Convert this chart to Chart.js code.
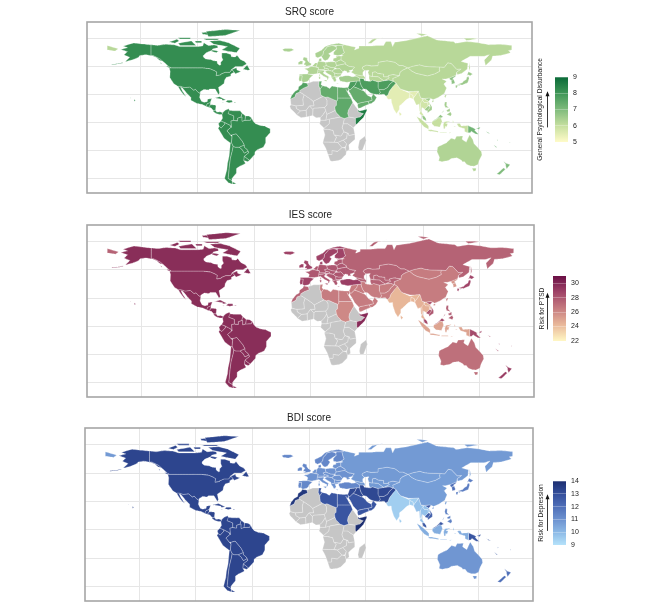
<!DOCTYPE html>
<html>
<head>
<meta charset="utf-8">
<title>SRQ, IES and BDI score maps</title>
<script src="https://cdn.jsdelivr.net/npm/chart.js@4/dist/chart.umd.min.js"></script>
<style>
  html, body { margin: 0; padding: 0; background: #fff; }
  #page { position: relative; width: 666px; height: 604px; overflow: hidden; }
  canvas { position: absolute; filter: blur(0.35px); }
</style>
</head>
<body>
<div id="page"></div>
<script>
// score of each region, null = no data (grey)
const groupNames = ['Americas', 'NW Europe', 'Europe', 'Turkey', 'Russia', 'East Asia', 'Japan', 'Korea',
  'North Africa', 'Middle East', 'Sudan', 'Somalia', 'Morocco', 'South Asia', 'Mainland SEA', 'Vietnam',
  'Malaysia', 'Indonesia', 'Philippines', 'PNG', 'Australia', 'New Zealand', 'Africa']
const srqValues = [8.2, 6.4, 6.3, 6.5, 6.2, 6.2, 6.6, 6.8, 7.4, 7.8, 7.5, 8.6, 7.7, 5.5, 5.8, 6.5, 6.7, 6.0, 6.5, 7.2, 6.3, 7.0, null]
const iesValues = [29.7, 28.8, 28.0, 29.0, 27.5, 26.5, 28.7, 25.5, 26.5, 26.5, 26.0, 29.8, 27.5, 24.3, 24.5, 28.0, 28.5, 25.0, 27.8, 28.5, 27.0, 29.0, null]
const bdiValues = [13.3, 11.3, 11.0, 11.3, 10.8, 10.7, 11.6, 12.0, 12.8, 13.2, 12.8, 14.0, 13.7, 9.5, 9.8, 12.5, 12.7, 10.3, 11.5, 12.8, 10.9, 12.0, null]

const srqTicks = [5, 6, 7, 8, 9]
const iesTicks = [22, 24, 26, 28, 30]
const bdiTicks = [9, 10, 11, 12, 13, 14]
const lonTicks = [-150, -100, -50, 0, 50, 100, 150]
const latTicks = [-50, -25, 0, 25, 50, 75]

const srqColors = ['#fffbc8', '#c6dfa0', '#7fbb7c', '#3f9657', '#0a6a38']
const iesColors = ['#fff7c4', '#e9b89a', '#c67c80', '#a04468', '#6a0f45']
const bdiColors = ['#b5e2fa', '#8cb9e6', '#6d92d0', '#4f6fb8', '#344f9b', '#1c2e70']

// country outlines as "lon,lat" lists
const outlines = {
  'Americas': [
    '-141,69.6 -135,69 -128,70 -120,69.5 -115,68 -108,68 -100,68 -95,68.5 -94,71.5 -90,69 -85,69.5 -82,69 -81.5,67 -86,66 -87,64.5 -92,62.5 -94.5,60 -94.5,58.7 -92.5,57 -88,56.5 -85,55.3 -82.3,55 -82,52.9 -80,51.3 -79,51.5 -79,54 -77,56 -78,58.5 -78,62.3 -74,62.2 -70,61 -69.5,59 -66,58.7 -64.5,60.3 -61.5,56.5 -58,54.8 -56,52.5 -60,50.2 -66,50.2 -70,47 -65,49 -64.5,47 -61,45.8 -66,43.7 -67,45 -69,47.4 -71,45 -75,45 -79,43.3 -79,42.8 -83,42 -82.5,45.3 -84.5,46.5 -88.5,48.2 -95,49 -123,49 -125,50 -130,54.5 -133,57 -137,59 -139,60 -141,60',
    '-123,49 -95,49 -88.5,48.2 -84.5,46.5 -82.5,45.3 -83,42 -79,42.8 -79,43.3 -75,45 -71,45 -69,47.4 -67,45 -70,43.5 -70,41.7 -74,40.5 -75.5,38 -76,35 -81,31.5 -80,26.5 -81,25 -82.7,28 -84,30 -89,30 -90,29 -94,29.5 -97.3,27.5 -97.2,26 -99.5,27.5 -101.5,29.8 -103,29 -106.5,31.8 -111,31.3 -114.8,32.5 -117.1,32.5 -120.5,34.5 -122.5,37.5 -124.3,40.3 -124,46 -124.7,48.4',
    '-141,69.6 -141,60 -139,60 -137,59 -133,57 -130,55 -133,55.5 -136,58 -140,59.7 -146,60.7 -151,60 -152,58.5 -158,56 -164,54.5 -160,58.5 -165,60.5 -162,63.5 -168,65.5 -162,67 -166,68.5 -156.5,71.3 -148,70.3',
    '-80,73.5 -72,71.5 -67,69 -62,66.5 -65,62.5 -71,63.5 -78,65 -73,68 -85,70 -89,73',
    '-117,71 -105,73 -101,69 -115,69', '-125,72 -118,74.5 -116,73 -120,71',
    '-90,77 -75,78 -62,82.5 -75,83.2 -92,81.5', '-95,75 -80,75 -82,74 -92,74', '-95,79 -88,78 -90,81 -96,80.5',
    '-117,76 -106,76 -106,74.8 -115,74.8', '-102,73 -96,73 -96,71.5 -101,71.5', '-87,65 -81,64 -83,62.5 -87,63.5',
    '-59,47.7 -55.5,51.5 -53,47 -55,46.8', '-125,50.5 -123.5,48.5 -128,50.5', '-133,54 -131.5,53 -132,52.5',
    '-117.1,32.5 -114.8,32.5 -111,31.3 -106.5,31.8 -103,29 -101.5,29.8 -99.5,27.5 -97.2,26 -97.8,22.5 -96,19 -94,18.2 -91,18.7 -90.5,21 -87,21.5 -88,18.5 -89,17.8 -91,17 -92,14.6 -95,16 -100,17 -105.5,20 -105.5,22.5 -109,26 -113,31 -114.8,31.8 -113,28 -110,23.5 -112,25 -115,29',
    '-92.2,14.6 -91,17 -89,17.8 -88.2,18.4 -88.3,16 -89.2,14.4 -90,13.8',
    '-89.2,14.4 -88.3,16 -84,15.8 -83.2,15 -83.6,11 -85.7,11 -87.6,13 -88,13.2 -90,13.8',
    '-83.6,11 -82.5,9.3 -79.5,9.6 -77.4,8.7 -77.9,7.2 -80.4,7.3 -83,8.2 -85.7,10 -85.7,11',
    '-85,22 -80,23.2 -74.2,20.2 -77.7,19.9 -78,21', '-74.5,18.5 -73,19.9 -69,19.8 -68.4,18.5 -71.5,17.7', '-78.3,18.4 -76.3,18.1 -77,17.8',
    '-67.2,18.4 -65.7,18.4 -65.9,18 -67.2,18',
    '-77.4,8.7 -75,11 -72,12.3 -71.3,11 -72.5,8 -70,7 -67.5,6 -67.5,2 -70,1.5 -69.5,-4.2 -70.5,-2.5 -75.3,0 -78.8,1.4 -77.3,4 -77.9,7.2',
    '-72,12.3 -71.3,11 -68,10.6 -64,10.5 -61.7,10.6 -60,8.4 -61,5 -64,4 -64,1.5 -67.5,2 -67.5,6 -70,7 -72.5,8',
    '-60,8.4 -57,6 -57.5,2 -60,1.2 -60,5 -61,5', '-57,6 -54,5.8 -51.7,4.3 -52.5,2.2 -57.5,2',
    '-78.8,1.4 -75.3,0 -75.5,-1.5 -78.5,-4.7 -80.3,-3.4 -81,-1',
    '-80.3,-3.4 -78.5,-4.7 -75.5,-1.5 -75.3,0 -70.5,-2.5 -69.9,-4.2 -73.5,-7.3 -70.5,-11 -69,-12.5 -69.5,-17.5 -70.4,-18.3 -76,-14 -81.3,-5',
    '-51.7,4.3 -50,1 -48,-1 -44,-2.5 -40,-3 -35,-5.5 -35,-9 -39,-13.5 -39,-18 -41,-22 -46,-24 -48.5,-26 -48.7,-28.5 -53.4,-33.7 -58,-30.2 -54,-27 -54.6,-25.5 -55.5,-24 -58,-22 -58,-20 -60,-16.3 -65.3,-10 -69,-11 -70.5,-11 -73.5,-7.3 -69.9,-4.2 -69.5,-4.2 -70,1.5 -67.5,2 -64,1.5 -64,4 -61,5 -60,5 -60,1.2 -57.5,2 -52.5,2.2',
    '-69,-11 -65.3,-10 -60,-16.3 -58,-20 -62.6,-22 -66.3,-22 -68,-21 -69.5,-17.5 -69,-12.5',
    '-58,-20 -58,-22 -55.5,-24 -54.6,-25.5 -58,-27.3 -60,-24 -62.6,-22',
    '-58,-30.2 -53.4,-33.7 -55,-35 -58.4,-34',
    '-70.4,-18.3 -69.5,-17.5 -68,-21 -68.5,-24 -70.5,-32 -71.5,-40 -72,-46 -72.5,-50 -69,-52 -68.5,-55 -72,-54 -75.5,-50 -73.5,-42 -73,-37 -71.5,-30',
    '-66.3,-22 -62.6,-22 -60,-24 -58,-27.3 -54.6,-25.5 -54,-27 -58,-30.2 -58.4,-34 -57,-36.5 -62,-39 -65,-41 -65,-45 -69,-50 -69,-52 -72.5,-50 -72,-46 -71.5,-40 -70.5,-32 -68.5,-24 -68,-21',
    '-68.5,-53 -68.5,-55 -65,-55',
    '-156,20.8 -155,19.8 -155.8,19 -156,19.8', '-159.8,22.2 -159.3,22.1 -159.5,21.8', '-176,52 -170,52.8 -166,53.8 -166,53.4 -170,52.4 -176,51.7'
  ],
  'NW Europe': [
    '-24,65.5 -22,66.4 -16,66.4 -13.7,65 -18,63.4 -22.5,63.9',
    '5,62 5.5,59 7.5,58 10.5,59.3 12,61 12.5,64 14,65.5 16,68 20,69 25,69 29,69 31,69.7 26,71 20,70 14,68 11,65',
    '10.5,59.3 12.5,56.3 14,55.4 16.5,56.5 18.7,60 17,61.5 21,64 24,65.8 23.5,68 20,69 16,68 14,65.5 12.5,64 12,61',
    '24,65.8 21.5,63 21.5,60.7 25,60 28,60.5 31,62.5 30,65 29,69 25,69 23.5,68',
    '8.2,55 8.5,57 10.5,57.5 10.8,55 9.5,54.8',
    '-5.5,50 1.3,51.2 1.7,52.7 -0.5,54 -2,56 -2,57.7 -5,58.6 -6,56.5 -3.5,54.5 -4.7,52.8 -5,51.7 -3,51.4',
    '-10,52 -6.2,52.2 -6,55 -8,55.2 -10,54',
    '-9,43.2 -1.8,43.4 3.2,42.4 0,39.5 -0.5,38 -2,36.8 -5.5,36 -7,37.2 -6.5,41 -6.5,42 -9,42',
    '-9,42 -6.5,42 -6.5,41 -7,37.2 -9,37 -9.5,38.8'
  ],
  'Europe': [
    '-4.7,48.5 -1.5,48.7 1.5,50.2 4,50 8.2,49 7.5,47.5 7,44 3.2,43.2 -1.8,43.4 -1,46 -2.5,47.3',
    '2.5,51 4,52 5,53.4 7,53.4 6,50 4,50',
    '7,53.4 8.2,55 9.5,54.8 14.2,54 15,51 12.3,50.3 13.5,48.7 13,47.5 7.5,47.5 8.2,49 6,50',
    '7.5,47.5 13,47.5 13.5,48.7 17,48 16,46.8 12.5,46.7 10,46.3 7,46',
    '7,44 7,46 10,46.3 12.5,46.7 13.7,45.6 12.3,45 12.5,44 16,41.8 18.5,40 17,40.5 16.7,39 15.7,38 15.7,40 12.5,41.5 10.5,43 8.8,44.4',
    '12.5,38 15.5,38.2 15,36.7', '8.2,41 9.7,41 9.5,39 8.5,39', '8.6,43 9.5,43 9.3,41.5 8.7,41.7',
    '14.2,54 19,54.5 23,54.3 24,51 22.5,49.1 19,49.4 15,51',
    '12.3,50.3 15,51 19,49.4 22.5,49.1 22,47.8 20,46.2 16,46.8 17,48 13.5,48.7',
    '22,47.8 24.5,48 27,48.3 29.7,45.3 28.6,43.8 25,43.7 22.5,44.3 20.3,46',
    '22.5,44.3 25,43.7 28.6,43.8 27.7,42 26.3,41.7 23,41.3 22.5,42.5',
    '13.7,45.6 16,46.8 20,46.2 22.5,44.3 22.5,42.5 23,41.3 20.8,40.9 19.4,40.5 19.4,42 15,44.5',
    '19.4,40.5 20.8,40.9 23,41.3 26.3,41.7 26,40.8 23,40.3 24,38 23,36.5 21.7,36.8 21,38.5 20,39.7',
    '23.5,35.5 26,35.3 25,34.9',
    '24,51 31.5,52.5 35,50.3 40,49.5 38,47.2 35,46.3 36.5,45.2 33.5,44.5 33,46 30.7,46.4 29.7,45.3 27,48.3 24.5,48 22.5,49.1',
    '23,54.3 24,51 31.5,52.5 32,53.5 28,56 26,55.5 23.5,53.9',
    '21,56 21.5,57.5 24,58 23.5,59.3 28,59.5 28,56 26,55.5 23.5,53.9 21,55.3'
  ],
  'Turkey': ['26.2,39.5 26.5,41 29,41.2 32,42 35,42 38,41 41.5,41.5 44.6,39.7 44.8,37.2 42.3,37.2 36.5,36.5 33,36 30.5,36.5 27.5,37'],
  'Russia': [
    '31,69.7 41,67.5 40,65 44,66.5 44,68.5 54,68.5 60,69 66,69 68,72.5 72.5,72.5 74,68 76,72 87,73.5 100,76.5 105,77.6 113,74 128,72.5 130,71 140,72.5 150,71.5 160,69.7 170,70 180,69 180,65 177,64.5 179,62.5 170,60 163,59.5 162,56 156.7,51 155.5,56 160,60.8 155,59.3 143,59.3 135,54.7 141,53 140.5,48 135.5,44 131.5,43 131,45 135,48 131,47.7 126,53 123,53.5 120,49.5 116,49.8 107,50 102,50.5 98,51.7 92,50.5 87.5,49 83,51 80,51 76,54 69,55.3 61,54 61,51 55,50.7 51,51.5 47.5,50 46.7,48.5 49,46.5 47.5,45 47.5,43 48,42 46,41.9 40,43.3 37,45 39,47 38,47.2 40,49.5 35,50.3 31.5,52.5 32,53.5 28,56 28,59.5 30,60 28,60.5 31,62.5 30,65 29,69',
    '-180,69 -170,66 -173,64 -180,65', '142,54 143,49 142,46 142,50', '52,71 56,74.5 68,77 60,75 55,71',
    '137,75.5 145,75.5 150,75 140,73.5', '95,80 105,79 100,77.5',
    '46.7,48.5 47.5,50 51,51.5 55,50.7 61,51 61,54 69,55.3 76,54 80,51 83,51 87.5,49 83,47 80.5,45 80,42 74,43 70,42 70,41 66,41 66,43.5 61,44 58.5,45.5 56,45 56,41.3 53,42 52,45 53,46.8 49,46.5',
    '53,42 56,41.3 61,41 66,37.5 65,37.3 61,36.5 56,38 54,37 53,39.5',
    '56,41.3 56,45 58.5,45.5 61,44 66,43.5 66,41 70,41 71,40 67,38 66,37.5 61,41',
    '70,41 70,42 74,43 80,42 74,39.5 74.5,37 71,38 67,38 71,40',
    '41.5,41.5 40,43.3 46,41.9 48,42 49.5,40.5 48.9,38.4 48,39.5 44.6,39.7'
  ],
  'East Asia': [
    '74,39.5 80,42 80.5,45 83,47 87.5,49 91,46 95,44 105,41.7 111.5,43.5 116,46 115.5,47.8 116,49.8 120,49.5 123,53.5 126,53 131,47.7 135,48 131,45 130.5,42.5 125,40 121,39 118,39 122,37 119.5,34.5 122,31 120,26 115,22.7 110,20.5 108,21.6 106.5,22 102,21.5 99,22 98,25 97,28.2 92,27.8 88,27.8 81,30 79,32.5 77,35.5 74.5,37',
    '87.5,49 92,50.5 98,51.7 102,50.5 107,50 116,49.8 115.5,47.8 116,46 111.5,43.5 105,41.7 95,44 91,46',
    '121,25 122,25 120.8,22 120,23.5', '109,19.5 110.5,20 110.5,18.7 109,18.3'
  ],
  'Japan': [
    '130.9,34 136,35.6 137,37 139.5,38.5 140,40.5 141.5,41.4 142,39.5 140.8,35.7 139,35 136,33.6 132,34',
    '140,42 141.5,45.5 145.3,43.5 143,42 141,42.7', '130,33.5 132,33.5 131,31 130,31.5', '132.5,33.5 134.5,34 134,33.4 133,32.8'
  ],
  'Korea': [
    '124.5,40 130.5,42.5 129.7,41 127.5,39.5 128.3,38.6 126,37.8 125,38.5',
    '126,37.8 128.3,38.6 129.4,36 129,35 126.5,34.4 126.5,36'
  ],
  'North Africa': [
    '8.6,36.9 11,37 10.2,34 11.5,33 9.5,30 8.2,33',
    '11.5,33 15,32.3 18,30.5 20,32.8 25,31.7 25,20 24,19.5 16,23 14,22.6 12,23.5 10,25 9.5,30',
    '25,31.7 32,31.2 34.2,31.3 34.9,29.5 33.5,27.5 32.5,29.8 35.5,24 37,22 25,22',
    '34.9,29.5 36,29.2 39,32 42,31 46.5,29 48,28.4 50,26.5 51.5,24.5 55,22.7 55.7,20 52,19 49,18.5 44,17.4 43,16.7 39,21 37,25 35,28',
    '43,16.7 44,17.4 49,18.5 52,19 53,16.7 45,13 43.5,12.7 42.8,15',
    '55.7,20 55,22.7 56.3,24.7 56.4,26 59.8,22.5 57.8,19 55,17 53,16.7 52,19'
  ],
  'Middle East': [
    '39,32 42,31 46.5,29 48,30 46,33 45,35.8 44.8,37.2 42.3,37.2 41.2,35 41,34.3',
    '34.2,31.3 35,33 35.8,35.5 36.5,36.5 42.3,37.2 41.2,35 41,34.3 39,32 36,29.2 34.9,29.5',
    '44.6,39.7 48,39.5 49,37.5 54,37 56,38 61,36.5 61,31.5 63,27 61.5,25 57,25.5 54,26.7 50.5,29.8 48,30 46,33 45,35.8 44.8,37.2',
    '61,36.5 65,37.3 71,38 74.5,37 71,34 69.5,31.5 66,29.5 61,29.5 61,31.5',
    '61,29.5 66,29.5 69.5,31.5 71,34 74.5,37 77,35.5 74,32 71,28 70,25 68,23.7 66.5,25.3 61.5,25 63,27'
  ],
  'Sudan': ['25,22 37,22 38.5,18 36.5,14.5 34.5,11 34,8 35,5 31,3.7 27.5,5 24,8.7 23,11 22.5,14 24,15.5 24,19.5 25,20'],
  'Somalia': ['43.2,11.4 44.5,10.4 51,12 51,10.5 48,4.5 42,-1.5 41,-1 41,4 45,5 48,8 43.5,9.5'],
  'Morocco': ['-6,35.8 -2,35.1 -1.2,32.5 -5,31 -8.7,28.7 -8.7,27.3 -12,26 -13,23 -17,21 -16,24 -13,27.8 -10,29.5 -9.7,32 -6.8,34'],
  'South Asia': [
    '68,23.7 70,25 71,28 74,32 74.5,34.5 77,35.5 79,32.5 81,30 88,26.8 92,27.8 97,28.2 94,24 92.5,22 92,24.5 89,26 88.7,22 86.8,21 82,16.5 80,15 80,12 77.5,8 75,12 73,18 72.7,21 70,20.7 69,22',
    '89,26 92,24.5 92.5,21 90,22 88.7,22', '80,9.7 82,7.5 80.5,6 79.8,8'
  ],
  'Mainland SEA': [
    '92.5,22 94,24 97,28.2 98,25 99,22 101,21 98.5,17 99,11 98,10 97.5,16.5 95,15.8 94,18 92.5,21',
    '98.5,20 100.5,20 102,18 105,18 105.5,15 102.5,12 101,13 100,13.5 99.5,10 102,6 100,6.5 98,8 99,11 98.5,17',
    '100.5,20 102,21.5 105.8,19 107,16 105.5,15 105,18 102,18'
  ],
  'Vietnam': [
    '102,21.5 106.5,22 108,21.6 105.8,19 109,14 109,11.5 105,8.7 105,10.5 107.5,14 107,16 105.8,19',
    '102.5,12 105.5,15 107.5,14 105.5,10.3 103,11'
  ],
  'Malaysia': [
    '100,6.5 102,6 103.5,4 104,1.5 101,3',
    '109.5,1.5 111,1.7 115,4.5 117,4.2 119,5.2 116.5,7 113,3.5'
  ],
  'Indonesia': [
    '109,0 109.5,1.5 111,1.7 115,4.5 117,4.2 118,1 116,-4 111,-3.2 109,-1',
    '95.3,5.5 98,4 104,-1 106,-3 106,-6 102,-4 98.5,0', '105.5,-6.5 108.5,-6.5 114.5,-7.7 114.5,-8.7 106,-7.6',
    '119.5,-5.5 119,-2 120,0.8 125,1.5 121,-0.8 123,-1 122,-4 121,-3 120.5,-5.6',
    '131,-1 134,-0.8 135,-3 141,-2.6 141,-9.2 138,-8 138,-5.5 133,-4 132,-2.5',
    '124,-10 127,-8.3 124.5,-9.2', '116,-8.5 119,-8.4 122,-8.5 122,-8.9 116,-9',
    '127.5,2 128.5,0 127.5,-0.5', '128,-3 130.5,-3.2 129,-3.5'
  ],
  'Philippines': [
    '120.5,18.5 122.2,18.4 122,15 124,13 120.7,13.8 120,16', '122,7 125.5,9.7 126.5,7.5 125.5,5.7 124,6.5',
    '122,11 125,12.5 125,10 122.5,9.7', '118,9 119.5,11 119,9.5 117.5,8.5'
  ],
  'PNG': [
    '141,-2.6 145,-4.5 147.8,-6 147,-7 150.7,-10.5 148,-10.2 144,-7.7 143,-9 141,-9.2',
    '148.5,-5.5 152,-4 151,-6', '157,-8 160.5,-9.5 159,-9.5', '166.8,-15 167.5,-16 167,-16.3', '164,-20 167,-22 166,-22.2', '178,-17.5 178.6,-17.5 178.4,-18.2'
  ],
  'Australia': [
    '114,-22 116,-20.8 122,-18 123.5,-16.5 126,-14 129.5,-15 130.8,-12.3 136.5,-12 135.8,-15 139.5,-17.5 141.5,-13 142.5,-10.8 145.3,-15 146.5,-19 150,-22.5 153,-26 153.5,-29 151,-34 150,-37.5 146.5,-39 143.5,-38.8 140,-37.5 138,-35 136,-35 135,-33.5 131,-31.5 126,-32.3 123.5,-33.9 118,-35 115,-34.3 115.7,-31 113.5,-26',
    '144.7,-40.8 148.3,-40.8 148,-43 146,-43.5'
  ],
  'New Zealand': [
    '172.7,-34.5 175.5,-36.7 178.5,-37.7 177,-39.5 175.5,-41.5 174.7,-39 174.5,-37',
    '172.7,-40.6 174.3,-41.7 171,-45 169,-46.6 166.5,-46 170,-43'
  ],
  'Africa': [
    '-2,35.1 3,36.8 8.6,36.9 8.2,33 9.5,30 10,25 12,23.5 3.3,19 1,21 -4.8,25 -8.7,27.3 -8.7,28.7 -5,31 -1.2,32.5',
    '-17,21 -13,23 -12,26 -8.7,27.3 -4.8,25 -6,21 -5.5,15.5 -12,15 -16.5,16',
    '-4.8,25 1,21 3.3,19 4,15 0,15 -3,11 -8,10.5 -11.5,12.5 -12,15 -5.5,15.5 -6,21',
    '3.3,19 12,23.5 14,22.6 15.5,20 15.5,16 13.5,13.5 4,13 3,11.7 0,15 4,15',
    '14,22.6 16,23 24,19.5 24,15.5 22.5,14 23,11 19,9 15.5,7.5 13.5,13.5 15.5,16 15.5,20',
    '-16.5,16 -12,15 -11.5,12.5 -8,10.5 -10.5,8 -11.5,7 -13.3,9 -16.7,12.3 -17.5,14.7',
    '-8,10.5 -3,11 -2.8,5 -7.5,4.4 -11.5,7 -10.5,8',
    '-3,11 0,15 3,11.7 2.8,6.4 -2.8,5',
    '3,11.7 4,13 13.5,13.5 14.5,11 12,7 9.5,4.5 6,4.3 2.8,6.4',
    '14.5,11 13.5,13.5 15.5,7.5 14.5,2.2 9.8,2.2 9.5,4.5 12,7',
    '15.5,7.5 19,9 23,11 24,8.7 27.5,5 19,3.5 14.5,2.2',
    '9.8,2.2 14.5,2.2 18,3.5 17.5,-1 13,-5 9,-1',
    '18,3.5 19,3.5 27.5,5 31,3.7 30,-1 29,-4.5 30.5,-8.2 28,-12 22,-11 21,-7 16.5,-6 12.3,-6 13,-5 17.5,-1',
    '36.5,14.5 38.5,18 43.2,11.4 43.5,9.5 48,8 45,5 41,4 35,5 34,8 34.5,11',
    '35,5 41,4 41,-1 42,-1.5 39.2,-4.6 34,-1 30,-1 31,3.7',
    '30,-1 34,-1 39.2,-4.6 40.4,-10.5 35,-11.5 34.5,-9.5 30.5,-8.2 29,-4.5',
    '12.3,-6 16.5,-6 21,-7 22,-11 24,-13 22,-17.5 12,-17.3 13.7,-11',
    '24,-13 22,-11 28,-12 30.5,-8.2 33.5,-9.5 33,-14 30,-15.6 25,-17.8 22,-17.5',
    '35,-11.5 40.4,-10.5 40.5,-15 35,-20 35.5,-24 32.8,-26 32,-23 33,-19 30,-15.6 33,-14 33.5,-9.5 34.5,-9.5',
    '25,-17.8 30,-15.6 33,-19 32,-22 29,-22.3',
    '12,-17.3 22,-17.5 25,-17.8 29,-22.3 25,-25.8 20,-25 20,-28.5 16.5,-28.5 14.5,-23 11.8,-18',
    '16.5,-28.5 20,-28.5 20,-25 25,-25.8 29,-22.3 32,-23 32.8,-26 32.5,-28.5 28,-33 25.5,-34 20,-34.8 18.3,-34 17,-30',
    '49.3,-12 50.5,-16 47,-25 44,-25 43.3,-22 44.5,-16'
  ]
}

const noDataColor = '#c6c6c6'
const page = document.getElementById('page')
Chart.defaults.font.family = '"Liberation Sans", Arial, sans-serif'
Chart.defaults.animation = false

function addCanvas(left, top, width, height) {
  const c = document.createElement('canvas')
  c.width = width
  c.height = height
  c.style.left = left + 'px'
  c.style.top = top + 'px'
  c.style.width = width + 'px'
  c.style.height = height + 'px'
  page.appendChild(c)
  return c
}

function toPoints(str) {
  return str.split(' ').map(p => {
    const [x, y] = p.split(',').map(Number)
    return {x, y}
  })
}

function hexToRgb(h) {
  return [1, 3, 5].map(i => parseInt(h.substr(i, 2), 16))
}

// same ramp as the colour bar
function scoreColor(v, domain, colors) {
  if (v === null) return noDataColor
  const t = Math.max(0, Math.min(1, (v - domain[0]) / (domain[1] - domain[0]))) * (colors.length - 1)
  const i = Math.min(Math.floor(t), colors.length - 2)
  const a = hexToRgb(colors[i]), b = hexToRgb(colors[i + 1])
  const rgb = a.map((c, k) => Math.round(c + (b[k] - c) * (t - i)))
  return `rgb(${rgb.join(',')})`
}

const boxBorder = {
  id: 'boxBorder',
  afterDraw(chart) {
    const {ctx, chartArea: a} = chart
    ctx.save()
    ctx.strokeStyle = '#a6a6a6'
    ctx.lineWidth = 1.6
    ctx.strokeRect(a.left, a.top, a.right - a.left, a.bottom - a.top)
    ctx.restore()
  }
}

function drawMap(title, values, domain, colors, box) {
  const datasets = []
  groupNames.forEach((name, i) => {
    const color = scoreColor(values[i], domain, colors)
    outlines[name].forEach(shape => {
      datasets.push({
        label: name,
        data: toPoints(shape + ' ' + shape.split(' ')[0]),
        showLine: true,
        fill: 'shape',
        // a tension of exactly 0 makes the line take its fast path, which merges points by pixel column
        tension: 0.001,
        pointRadius: 0,
        borderWidth: 0.5,
        borderColor: 'rgba(255,255,255,0.55)',
        backgroundColor: color
      })
    })
  })
  const grid = {color: '#e6e6e6', lineWidth: 1, drawTicks: false}
  new Chart(addCanvas(box.left - 2, box.top - 20, box.width + 4, box.height + 22), {
    type: 'scatter',
    data: {datasets},
    options: {
      responsive: false,
      layout: {padding: {left: 2, right: 2, bottom: 2}},
      plugins: {
        legend: {display: false},
        tooltip: {enabled: false},
        title: {display: true, text: title, color: '#222', font: {size: 10, weight: 'normal'}, padding: {top: 4, bottom: 4}}
      },
      scales: {
        x: {
          min: -198, max: 198, grid, border: {display: false}, ticks: {display: false},
          afterBuildTicks: s => { s.ticks = lonTicks.map(value => ({value})) }
        },
        y: {
          min: -63, max: 90, grid, border: {display: false}, ticks: {display: false},
          afterBuildTicks: s => { s.ticks = latTicks.map(value => ({value})) }
        }
      }
    },
    plugins: [boxBorder]
  })
}

// colour bar: one floating bar on the score axis, with the arrow next to the axis title
function drawColorBar(label, ticks, domain, colors, box, arrow) {
  const arrowPlugin = {
    id: 'riskArrow',
    afterDraw(chart) {
      const {ctx} = chart
      const y = chart.scales.y
      const x = chart.chartArea.left - arrow.gap
      const y0 = y.getPixelForValue(arrow.from), y1 = y.getPixelForValue(arrow.to)
      ctx.save()
      ctx.strokeStyle = '#222'
      ctx.fillStyle = '#111'
      ctx.lineWidth = 0.9
      ctx.beginPath()
      ctx.moveTo(x, y0)
      ctx.lineTo(x, y1)
      ctx.stroke()
      ctx.beginPath()
      ctx.moveTo(x, y1 - 2)
      ctx.lineTo(x + 2, y1 + 3)
      ctx.lineTo(x - 2, y1 + 3)
      ctx.closePath()
      ctx.fill()
      ctx.restore()
    }
  }
  new Chart(addCanvas(box.left - box.axis, box.top - 45, box.width + box.axis + 20, box.height + 90), {
    type: 'bar',
    data: {
      labels: [label],
      datasets: [{
        data: [domain],
        barPercentage: 1,
        categoryPercentage: 1,
        borderSkipped: false,
        backgroundColor: ctx => {
          const a = ctx.chart.chartArea
          if (!a) return colors[0]
          const g = ctx.chart.ctx.createLinearGradient(0, a.bottom, 0, a.top)
          colors.forEach((c, i) => g.addColorStop(i / (colors.length - 1), c))
          return g
        }
      }]
    },
    options: {
      responsive: false,
      layout: {padding: {top: 45, bottom: 45}},
      plugins: {legend: {display: false}, tooltip: {enabled: false}},
      scales: {
        x: {display: false},
        y: {
          position: 'right',
          min: domain[0], max: domain[1],
          border: {display: false},
          grid: {color: 'rgba(255,255,255,0.35)', lineWidth: 0.8, drawTicks: false, z: 1},
          ticks: {color: '#222', font: {size: 7}, padding: 5, maxRotation: 0},
          afterBuildTicks: s => { s.ticks = ticks.map(value => ({value})) },
          afterFit: s => { s.width = 20 }
        },
        yTitle: {
          axis: 'y',
          position: 'left',
          min: 0, max: 1,
          grid: {display: false},
          border: {display: false},
          ticks: {display: false},
          title: {display: true, text: label, color: '#222', font: {size: 6.6}, padding: {top: 0, bottom: 0}},
          afterFit: s => { s.width = box.axis }
        }
      }
    },
    plugins: [arrowPlugin]
  })
}

drawMap('SRQ score', srqValues, [5, 9], srqColors, {left: 87, top: 22, width: 445, height: 171})
drawMap('IES score', iesValues, [22, 31], iesColors, {left: 87, top: 225, width: 447, height: 172})
drawMap('BDI score', bdiValues, [9, 14], bdiColors, {left: 85, top: 428, width: 448, height: 173})

drawColorBar('General Psychological Disturbance', srqTicks, [5, 9], srqColors, {left: 555, top: 77, width: 13, height: 65, axis: 19}, {gap: 7.5, from: 5.9, to: 8.0})
drawColorBar('Risk for PTSD', iesTicks, [22, 31], iesColors, {left: 553, top: 276, width: 13, height: 65, axis: 15}, {gap: 5.5, from: 23.6, to: 28.4})
drawColorBar('Risk for Depression', bdiTicks, [9, 14], bdiColors, {left: 553, top: 481, width: 13, height: 64, axis: 16}, {gap: 5.5, from: 10.1, to: 12.8})
</script>
</body>
</html>
